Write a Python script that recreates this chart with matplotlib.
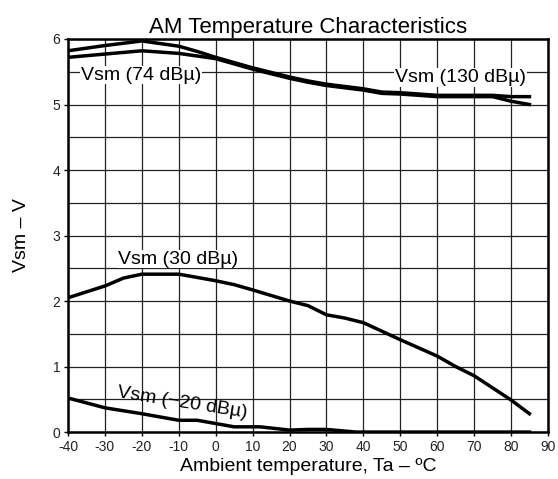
import matplotlib
matplotlib.use("Agg")
import matplotlib.pyplot as plt
from matplotlib.ticker import MultipleLocator

plt.rcParams['font.family'] = ['Liberation Sans', 'DejaVu Sans']

# Data
t_74 = [-40, -30, -20, -10, -5, 0, 10, 20, 25, 30, 40, 45, 50, 60, 70, 75, 80, 85]
v_74 = [5.82, 5.90, 5.97, 5.89, 5.81, 5.72, 5.56, 5.42, 5.36, 5.31, 5.24, 5.19, 5.18, 5.14, 5.14, 5.14, 5.12, 5.12]
t_130 = [-40, -30, -20, -10, -5, 0, 10, 20, 25, 30, 40, 45, 50, 60, 70, 75, 80, 85]
v_130 = [5.72, 5.77, 5.82, 5.78, 5.74, 5.70, 5.54, 5.40, 5.34, 5.29, 5.22, 5.17, 5.16, 5.12, 5.12, 5.12, 5.05, 5.00]
t_30 = [-40, -30, -25, -20, -10, 0, 5, 10, 20, 25, 30, 35, 40, 50, 60, 65, 70, 80, 85]
v_30 = [2.05, 2.23, 2.35, 2.41, 2.41, 2.31, 2.25, 2.17, 2.00, 1.93, 1.79, 1.74, 1.67, 1.41, 1.16, 1.00, 0.86, 0.49, 0.28]
t_m20 = [-40, -30, -20, -10, -5, 0, 5, 12, 20, 25, 30, 38, 50, 60, 70, 85]
v_m20 = [0.52, 0.37, 0.28, 0.18, 0.18, 0.13, 0.08, 0.08, 0.03, 0.04, 0.04, 0.0, 0.0, 0.0, 0.0, 0.0]

x_ticks = [-40, -30, -20, -10, 0, 10, 20, 30, 40, 50, 60, 70, 80, 90]
y_ticks = [0, 1, 2, 3, 4, 5, 6]

fig = plt.figure(figsize=(5.58, 4.79), dpi=100)
ax = fig.add_axes([0.1219, 0.098, 0.860, 0.8206])

lw = 2.5
ax.plot(t_74, v_74, color='black', lw=lw, zorder=3)
ax.plot(t_130, v_130, color='black', lw=lw, zorder=3)
ax.plot(t_30, v_30, color='black', lw=lw, zorder=3)
ax.plot(t_m20, v_m20, color='black', lw=lw, zorder=3)

ax.set_xlim(-40, 90)
ax.set_ylim(0, 6)
ax.set_xticks(x_ticks)
ax.set_xticklabels([str(v) for v in x_ticks])
ax.set_yticks(y_ticks)
ax.yaxis.set_minor_locator(MultipleLocator(0.5))
ax.tick_params(axis='both', which='major', labelsize=10, length=3, width=1, direction='out', colors='black', labelcolor='#222222')
ax.tick_params(axis='x', which='major', pad=2.5)
ax.tick_params(axis='y', which='major', pad=2.5)
ax.tick_params(axis='y', which='minor', length=0)
ax.grid(True, which='both', color='#222222', lw=0.9, zorder=1)
for s in ax.spines.values():
    s.set_linewidth(1.8)
    s.set_zorder(4)

bbox = dict(facecolor='white', edgecolor='none', pad=0.5)
fs = 14
ax.text(-36.5, 5.45, 'Vsm (74 dBµ)', fontsize=fs, va='center', ha='left', bbox=bbox, zorder=5)
ax.text(48.6, 5.41, 'Vsm (130 dBµ)', fontsize=fs, va='center', ha='left', bbox=bbox, zorder=5)
ax.text(-26.5, 2.64, 'Vsm (30 dBµ)', fontsize=fs, va='center', ha='left', bbox=bbox, zorder=5)
ax.text(-26.7, 0.60, 'Vsm (\u221220 dBµ)', fontsize=fs, va='center', ha='left', rotation=-9,
        rotation_mode='anchor', zorder=5)

ax.set_title('AM Temperature Characteristics', fontsize=16, pad=4)
ax.set_xlabel('Ambient temperature, Ta \u2013 \u00baC', fontsize=14, labelpad=3)
ax.set_ylabel('Vsm \u2013 V', fontsize=14, labelpad=16)

fig.savefig('out.png', dpi=100)
